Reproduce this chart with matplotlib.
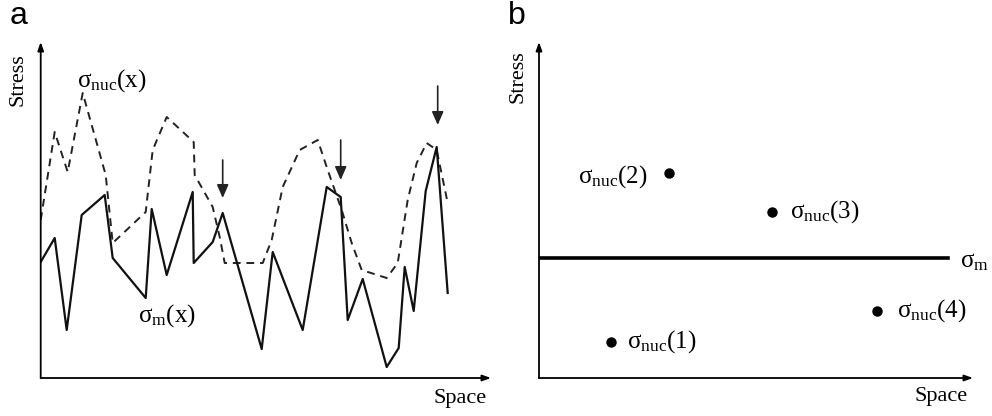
import matplotlib
matplotlib.use("Agg")
import matplotlib.pyplot as plt

plt.rcParams['font.family'] = ['Liberation Serif', 'DejaVu Serif']
plt.rcParams['mathtext.fontset'] = 'custom'
plt.rcParams['mathtext.rm'] = 'Liberation Serif'
plt.rcParams['mathtext.it'] = 'Liberation Serif:italic'

# panel a: positions along space, stress values
m_x = [0, 14, 26, 41, 64, 72, 105, 111, 126, 152, 153, 172, 182, 221, 232, 262,
       286, 300, 307, 322, 346, 358, 364, 373, 385, 396, 407]
m_y = [116, 140, 48, 163, 183, 120, 80, 169, 103, 186, 115, 136, 165, 29, 126, 48,
       191, 181, 58, 99, 11, 30, 111, 67, 187, 231, 85]
nuc_x = [0, 14, 27, 42, 65, 72, 105, 112, 126, 153, 154, 172, 179, 184, 222, 231,
         242, 259, 277, 287, 301, 311, 321, 346, 357, 367, 376, 386, 396, 407]
nuc_y = [158, 246, 206, 285, 203, 135, 166, 228, 261, 236, 203, 171, 141, 115, 115, 138,
         191, 228, 238, 208, 168, 135, 108, 100, 115, 178, 215, 235, 228, 175]
arrow_x = [182, 300, 397]
arrow_top = [218, 238, 292]
arrow_tip = [180, 198, 253]

# panel b: nucleation stresses at four sites and the mean stress
site_names = ['1', '2', '3', '4']
site_x = [72, 130, 233, 338]
site_y = [36, 205, 166, 67]
sigma_m = 120

W, H = 992, 416
fig = plt.figure(figsize=(W / 100, H / 100), dpi=100)

def make_axes(left_px, right_px):
    ax = fig.add_axes([left_px / W, (H - 378) / H, (right_px - left_px) / W, (378 - 42) / H])
    ax.set_xlim(0, right_px - left_px)
    ax.set_ylim(0, 336)
    ax.axis('off')
    ax.annotate('', xy=(0, 1), xytext=(0, 0), xycoords='axes fraction',
                arrowprops=dict(arrowstyle='-|>,head_length=0.5,head_width=0.18',
                                lw=1.3, color='black', shrinkA=0, shrinkB=0))
    ax.annotate('', xy=(1, 0), xytext=(0, 0), xycoords='axes fraction',
                arrowprops=dict(arrowstyle='-|>,head_length=0.5,head_width=0.18',
                                lw=1.3, color='black', shrinkA=0, shrinkB=0))
    return ax

fs = 16
lfs = 18
sig = r'$\mathrm{σ}_{\mathrm{%s}}$'

# ---- a ----
axa = make_axes(40.7, 491)
axa.plot(nuc_x, nuc_y, color='#222222', lw=1.4, linestyle=(0, (4, 3)))
axa.plot(m_x, m_y, color='#111111', lw=1.6)
for x, y0, y1 in zip(arrow_x, arrow_top, arrow_tip):
    axa.annotate('', xy=(x, y1), xytext=(x, y0),
                 arrowprops=dict(arrowstyle='-|>,head_length=0.8,head_width=0.35',
                                 lw=1.2, color='#222222', shrinkA=0, shrinkB=0))
axa.text(36, 291, (sig % 'nuc') + '(x)', fontsize=lfs, va='baseline', ha='left')
axa.text(97, 56, (sig % 'm') + '(x)', fontsize=lfs, va='baseline', ha='left')
fig.text(18 / W, 1 - 80 / H, 'Stress', rotation=90, fontsize=fs, ha='center', va='center')
fig.text(487 / W, 1 - 398 / H, 'Space', fontsize=fs, ha='right', va='center')
fig.text(10 / W, 1 - 24 / H, 'a', family='Liberation Sans', fontsize=23, ha='left', va='baseline')

# ---- b ----
axb = make_axes(539, 973)
axb.plot([0, 409], [sigma_m, sigma_m], color='black', lw=2.6)
axb.plot(site_x, site_y, 'o', color='black', markersize=6.5)
offsets = {'1': (16, 'left'), '2': (-21, 'right'), '3': (18, 'left'), '4': (20, 'left')}
base_shift = {'1': -6, '2': -10, '3': -6, '4': -6}
for name, x, y in zip(site_names, site_x, site_y):
    dx, ha = offsets[name]
    axb.text(x + dx, y + base_shift[name], (sig % 'nuc') + '(%s)' % name,
             fontsize=lfs, va='baseline', ha=ha)
axb.text(421, sigma_m - 9, sig % 'm', fontsize=lfs, va='baseline', ha='left')
fig.text(518 / W, 1 - 77 / H, 'Stress', rotation=90, fontsize=fs, ha='center', va='center')
fig.text(968 / W, 1 - 397 / H, 'Space', fontsize=fs, ha='right', va='center')
fig.text(508 / W, 1 - 24 / H, 'b', family='Liberation Sans', fontsize=23, ha='left', va='baseline')

fig.savefig('out.png', dpi=100)
